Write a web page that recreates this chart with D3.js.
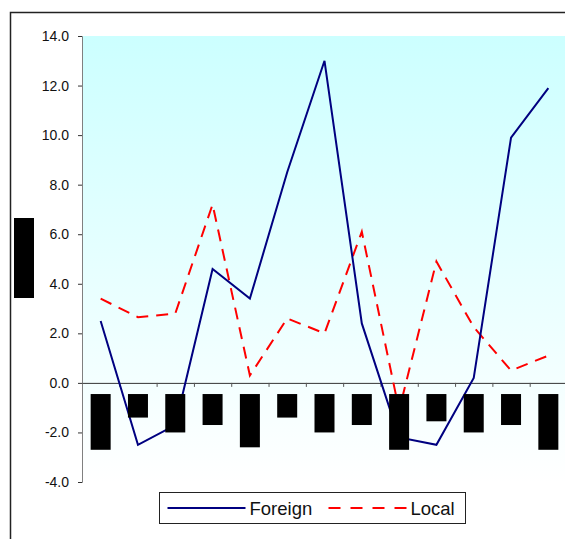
<!DOCTYPE html>
<html>
<head>
<meta charset="utf-8">
<script src="https://cdn.jsdelivr.net/npm/d3@7"></script>
<style>
  body { margin: 0; background: #fff; }
  svg { display: block; font-family: "Liberation Sans", Arial, sans-serif; }
</style>
</head>
<body>
<div id="chart"></div>
<script>
// values
var categories = ["c1", "c2", "c3", "c4", "c5", "c6", "c7", "c8", "c9", "c10", "c11", "c12", "c13"];
var foreign = [2.5, -2.5, -1.7, 4.6, 3.4, 8.5, 13.0, 2.4, -2.2, -2.5, 0.2, 9.9, 11.9];
var local = [3.4, 2.65, 2.8, 7.2, 0.3, 2.6, 2.0, 6.1, -1.1, 4.9, 2.25, 0.5, 1.1];
// category labels are blacked out in the reference; depth of each black block (axis units)
var labelMask = [-2.7, -1.4, -2.0, -1.7, -2.6, -1.4, -2.0, -1.7, -2.7, -1.55, -2.0, -1.7, -2.7];
var yTicks = [-4, -2, 0, 2, 4, 6, 8, 10, 12, 14];
var seriesNames = ["Foreign", "Local"];

var width = 565,
    height = 539,
    margin = { left: 82, top: 36 },
    plotW = 485,
    plotH = 446;

var svg = d3.select("#chart").append("svg")
    .attr("width", width)
    .attr("height", height);

// outer chart border (runs off the right/bottom edge)
svg.append("rect")
    .attr("x", 10.5).attr("y", 12.5)
    .attr("width", 700).attr("height", 700)
    .attr("fill", "none")
    .attr("stroke", "#222")
    .attr("stroke-width", 1.5);

var grad = svg.append("defs").append("linearGradient")
    .attr("id", "bg").attr("x1", 0).attr("y1", 0).attr("x2", 0).attr("y2", 1);
grad.append("stop").attr("offset", "0%").attr("stop-color", "#ccffff");
grad.append("stop").attr("offset", "100%").attr("stop-color", "#ffffff");

var g = svg.append("g").attr("transform", "translate(" + margin.left + "," + margin.top + ")");

var x = d3.scaleBand().domain(categories).range([0, plotW]);
var y = d3.scaleLinear().domain([-4, 14]).range([plotH, 0]);

g.append("rect")
    .attr("width", plotW).attr("height", plotH)
    .attr("fill", "url(#bg)");

// y axis
var yAxis = g.append("g")
    .call(d3.axisLeft(y).tickValues(yTicks).tickSize(4).tickPadding(9)
        .tickFormat(function(d) { return d.toFixed(1); }));
yAxis.select(".domain").attr("stroke", "#808080");
yAxis.selectAll(".tick line").attr("stroke", "#333");
yAxis.selectAll("text").style("font-size", "14px").attr("fill", "#111")
    .style("font-family", "'Liberation Sans', Arial, sans-serif");

// x axis on zero line, ticks between categories
var xb = d3.scaleLinear().domain([0, categories.length]).range([0, plotW]);
var xAxis = g.append("g")
    .attr("transform", "translate(0," + y(0) + ")")
    .call(d3.axisBottom(xb).tickValues(d3.range(1, categories.length)).tickSize(4).tickSizeOuter(0).tickFormat(""));
xAxis.select(".domain").attr("stroke", "#333");
xAxis.selectAll(".tick line").attr("stroke", "#555");

var line = d3.line()
    .x(function(d, i) { return x(categories[i]) + x.bandwidth() / 2; })
    .y(function(d) { return y(d); });

g.append("path").datum(local)
    .attr("d", line)
    .attr("fill", "none")
    .attr("stroke", "#ff0000")
    .attr("stroke-width", 2)
    .attr("stroke-dasharray", "12,8");

g.append("path").datum(foreign)
    .attr("d", line)
    .attr("fill", "none")
    .attr("stroke", "#000080")
    .attr("stroke-width", 2);

// blacked-out category labels, drawn over the lines
g.selectAll(".mask").data(categories)
  .enter().append("rect")
    .attr("class", "mask")
    .attr("x", function(d) { return x(d) + x.bandwidth() / 2 - 10; })
    .attr("y", y(-0.45))
    .attr("width", 20)
    .attr("height", function(d, i) { return y(labelMask[i]) - y(-0.45); })
    .attr("fill", "#000");

// blacked-out y axis title
svg.append("rect")
    .attr("x", 14).attr("y", 218)
    .attr("width", 20).attr("height", 80)
    .attr("fill", "#000");

// legend
var legend = svg.append("g").attr("transform", "translate(159.5,492.5)");
legend.append("rect")
    .attr("width", 306).attr("height", 31)
    .attr("fill", "#fff").attr("stroke", "#222").attr("stroke-width", 1);

var items = [
    { name: seriesNames[0], x: 8, color: "#000080", dash: null },
    { name: seriesNames[1], x: 169, color: "#ff0000", dash: "12,10" }
];
items.forEach(function(it) {
    legend.append("line")
        .attr("x1", it.x).attr("x2", it.x + 78)
        .attr("y1", 15.5).attr("y2", 15.5)
        .attr("stroke", it.color).attr("stroke-width", 2)
        .attr("stroke-dasharray", it.dash);
    legend.append("text")
        .attr("x", it.x + 82).attr("y", 15.5)
        .attr("dy", "0.36em")
        .style("font-size", "18.5px")
        .attr("fill", "#111")
        .text(it.name);
});
</script>
</body>
</html>
